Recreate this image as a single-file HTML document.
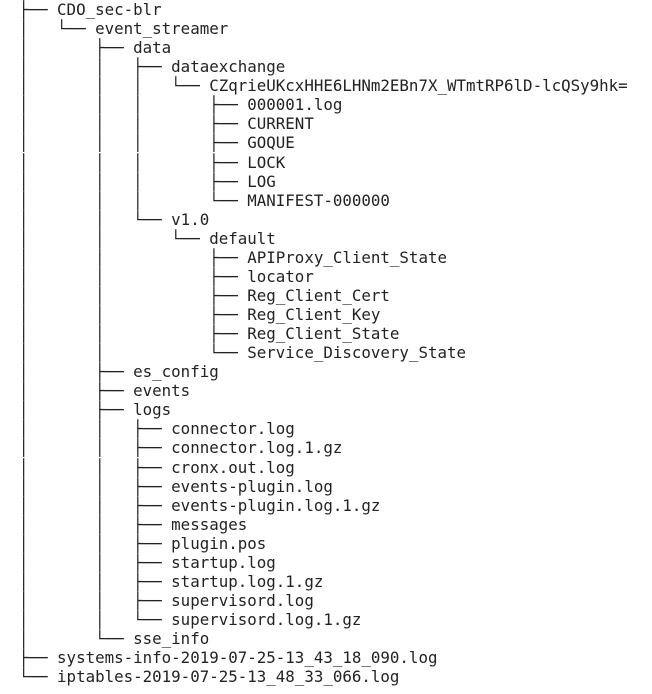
<!DOCTYPE html>
<html><head><meta charset="utf-8"><style>
html,body{margin:0;padding:0;background:#fff;width:652px;height:694px;overflow:hidden}
pre{position:absolute;left:19px;top:0px;margin:0;font-family:"DejaVu Sans Mono","Liberation Mono",monospace;font-size:15.8px;line-height:19.06px;color:#222;letter-spacing:0}
</style></head><body>
<pre>├── CDO_sec-blr
│   └── event_streamer
│       ├── data
│       │   ├── dataexchange
│       │   │   └── CZqrieUKcxHHE6LHNm2EBn7X_WTmtRP6lD-lcQSy9hk=
│       │   │       ├── 000001.log
│       │   │       ├── CURRENT
│       │   │       ├── GOQUE
│       │   │       ├── LOCK
│       │   │       ├── LOG
│       │   │       └── MANIFEST-000000
│       │   └── v1.0
│       │       └── default
│       │           ├── APIProxy_Client_State
│       │           ├── locator
│       │           ├── Reg_Client_Cert
│       │           ├── Reg_Client_Key
│       │           ├── Reg_Client_State
│       │           └── Service_Discovery_State
│       ├── es_config
│       ├── events
│       ├── logs
│       │   ├── connector.log
│       │   ├── connector.log.1.gz
│       │   ├── cronx.out.log
│       │   ├── events-plugin.log
│       │   ├── events-plugin.log.1.gz
│       │   ├── messages
│       │   ├── plugin.pos
│       │   ├── startup.log
│       │   ├── startup.log.1.gz
│       │   ├── supervisord.log
│       │   └── supervisord.log.1.gz
│       └── sse_info
├── systems-info-2019-07-25-13_43_18_090.log
└── iptables-2019-07-25-13_48_33_066.log</pre>
</body></html>
